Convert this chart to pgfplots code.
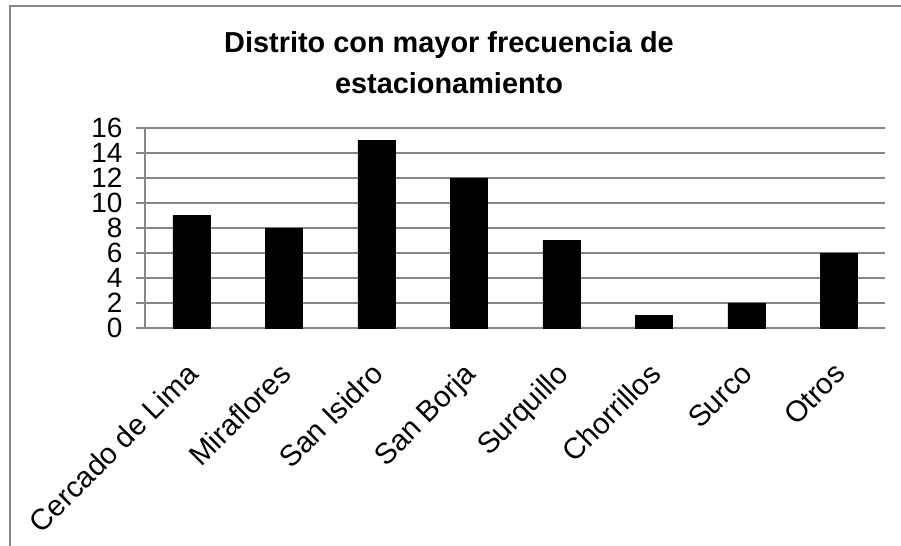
\documentclass[border=0pt]{standalone}
\usepackage{fontspec}
\setmainfont{Liberation Sans}
\usepackage{pgfplots}
\pgfplotsset{compat=1.18}
\definecolor{gridgray}{RGB}{134,134,134}
\begin{document}
\begin{tikzpicture}[x=1bp,y=1bp]
\useasboundingbox (0,0) rectangle (901,546);
\draw[gridgray, line width=1.5bp] (10,-5) -- (10,540) -- (906,540);
\node[anchor=base, inner sep=0pt, font=\fontsize{29}{33}\selectfont\bfseries] at (449,493.3) {Distrito con mayor frecuencia de};
\node[anchor=base, inner sep=0pt, font=\fontsize{29}{33}\selectfont\bfseries] at (449,452.5) {estacionamiento};
\begin{axis}[
  at={(145bp,218bp)}, anchor=south west, scale only axis,
  width=740bp, height=200bp,
  xmin=-0.5, xmax=7.5, ymin=0, ymax=16,
  ytick={0,2,...,16},
  xtick={0,...,7},
  xticklabels={Cercado de Lima, Miraflores, San Isidro, San Borja, Surquillo, Chorrillos, Surco, Otros},
  /pgf/number format/assume math mode=true,
  x tick label style={rotate=45, anchor=north east, font=\fontsize{29.5}{34}\selectfont, xshift=-18bp, yshift=-9bp},
  y tick label style={font=\fontsize{28}{30}\selectfont, xshift=-10bp},
  axis x line*=bottom, axis y line*=left,
  axis line style={gridgray, line width=1.5bp},
  tick align=outside,
  major tick length=9bp,
  x tick style={draw=none},
  y tick style={gridgray, line width=1.5bp},
  extra x ticks={-0.5,0.5,...,7.5},
  extra x tick labels={},
  extra x tick style={tick style={draw=gridgray, line width=1.5bp}, grid=none},
  ymajorgrids,
  grid style={gridgray, line width=1.5bp},
  clip=false,
]
\addplot[ybar, bar width=37bp, fill=black, draw=black] coordinates {(0,9)(1,8)(2,15)(3,12)(4,7)(5,1)(6,2)(7,6)};
\end{axis}
\end{tikzpicture}
\end{document}
